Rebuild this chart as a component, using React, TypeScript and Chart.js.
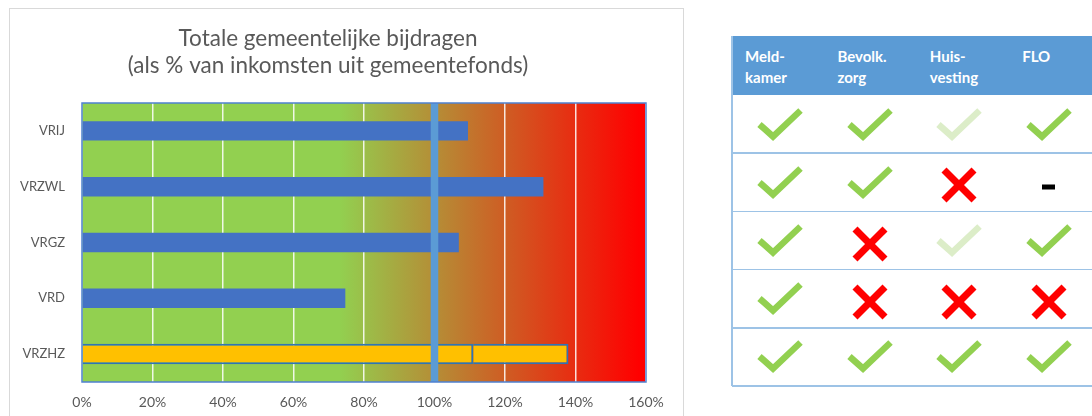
import React, { useEffect, useRef } from 'react';
import { Chart, registerables } from 'chart.js';

Chart.register(...registerables);

// ---------- data ----------
const TITLE_LINES = ['Totale gemeentelijke bijdragen', '(als % van inkomsten uit gemeentefonds)'];
const CATEGORIES = ['VRIJ', 'VRZWL', 'VRGZ', 'VRD', 'VRZHZ'];
const CONTRIBUTION = [109.5, 130.9, 106.9, 74.7, 111];
const CONTRIBUTION_EXTRA = [null, null, null, null, 27];
const HIGHLIGHT = 'VRZHZ';
const X_TICKS = [0, 20, 40, 60, 80, 100, 120, 140, 160];
const THRESHOLD = 100;
const GRADIENT_FROM = 73;
const GRADIENT_TO = 158;

const TABLE_HEADERS = [['Meld-', 'kamer'], ['Bevolk.', 'zorg'], ['Huis-', 'vesting'], ['FLO']];
const TABLE_STATUS = [
  ['check', 'check', 'faded', 'check'],
  ['check', 'check', 'cross', 'dash'],
  ['check', 'cross', 'faded', 'check'],
  ['check', 'cross', 'cross', 'cross'],
  ['check', 'check', 'check', 'check'],
];

// ---------- styles ----------
const FONT = 'Lato, "Open Sans", sans-serif';
const TEXT = '#595959';
const BLUE = '#4472c4';
const YELLOW = '#ffc000';
const BAR_EDGE = '#2e75b6';
const GREEN_BG = '#92d050';
const RED_BG = '#ff0000';
const REF_LINE = '#5b9bd5';

const bgPlugin = {
  id: 'zoneBackground',
  beforeDraw(chart: any) {
    const { ctx, chartArea: a, scales } = chart;
    const x = scales.x;
    const g = ctx.createLinearGradient(x.getPixelForValue(GRADIENT_FROM), 0, x.getPixelForValue(GRADIENT_TO), 0);
    g.addColorStop(0, GREEN_BG);
    g.addColorStop(1, RED_BG);
    ctx.save();
    ctx.fillStyle = g;
    ctx.fillRect(a.left, a.top, a.right - a.left, a.bottom - a.top);
    ctx.restore();
  },
};

const refLinePlugin = {
  id: 'refLine',
  afterDatasetsDraw(chart: any) {
    const { ctx, chartArea: a, scales } = chart;
    const px = scales.x.getPixelForValue(THRESHOLD);
    ctx.save();
    ctx.fillStyle = REF_LINE;
    ctx.fillRect(px - 3.75, a.top, 7.5, a.bottom - a.top);
    ctx.restore();
  },
  afterDraw(chart: any) {
    const { ctx, chartArea: a } = chart;
    ctx.save();
    ctx.strokeStyle = '#4f81d0';
    ctx.lineWidth = 1.5;
    ctx.strokeRect(a.left, a.top, a.right - a.left, a.bottom - a.top);
    ctx.restore();
  },
};

function BarChart() {
  const ref = useRef<HTMLCanvasElement | null>(null);
  useEffect(() => {
    if (!ref.current) return;
    const blueData = CONTRIBUTION.map((v, i) => (CATEGORIES[i] === HIGHLIGHT ? null : v));
    const hiData = CONTRIBUTION.map((v, i) => (CATEGORIES[i] === HIGHLIGHT ? v : null));
    const chart = new Chart(ref.current, {
      type: 'bar',
      data: {
        labels: CATEGORIES,
        datasets: [
          {
            data: blueData,
            backgroundColor: BLUE,
            borderWidth: 0,
            barPercentage: 0.348,
            categoryPercentage: 1,
          },
          {
            data: hiData,
            backgroundColor: YELLOW,
            borderColor: BAR_EDGE,
            borderWidth: 2,
            borderSkipped: 'start',
            barPercentage: 0.368,
            categoryPercentage: 1,
          },
          {
            data: CONTRIBUTION_EXTRA,
            backgroundColor: YELLOW,
            borderColor: BAR_EDGE,
            borderWidth: 2,
            borderSkipped: 'start',
            barPercentage: 0.368,
            categoryPercentage: 1,
          },
        ],
      },
      options: {
        indexAxis: 'y',
        responsive: false,
        animation: false,
        layout: { padding: { top: 0, left: 0, right: 37, bottom: 0 } },
        plugins: {
          legend: { display: false },
          tooltip: { enabled: false },
          title: {
            display: true,
            text: TITLE_LINES,
            color: TEXT,
            font: { family: FONT, size: 22.5, weight: 'normal', lineHeight: 1.2 },
            padding: { top: 16.5, bottom: 23.5 },
          },
        },
        scales: {
          x: {
            stacked: true,
            min: 0,
            max: 160,
            afterBuildTicks: (s: any) => {
              s.ticks = X_TICKS.map((v) => ({ value: v }));
            },
            afterFit: (s: any) => {
              s.height = 34;
            },
            grid: { color: 'rgba(255,255,255,0.85)', lineWidth: 1.5, drawTicks: false },
            border: { display: false },
            ticks: {
              color: TEXT,
              font: { family: FONT, size: 14 },
              padding: 12,
              callback: (v: any) => v + '%',
            },
          },
          y: {
            stacked: true,
            afterFit: (s: any) => {
              s.width = 72;
            },
            grid: { display: false, drawTicks: false },
            border: { display: false },
            ticks: { color: TEXT, font: { family: FONT, size: 13 }, padding: 17 },
          },
        },
      },
      plugins: [bgPlugin, refLinePlugin],
    } as any);
    return () => chart.destroy();
  }, []);
  return <canvas ref={ref} width={673} height={407} style={{ position: 'absolute', left: 0, top: 0, width: 673, height: 407 }} />;
}

function Icon({ kind }: { kind: string }) {
  if (kind === 'check' || kind === 'faded') {
    return (
      <svg width={48} height={34} viewBox="0 0 48 34" style={{ display: 'block' }}>
        <polyline
          points="3.5,17.5 17,29.5 44.5,3.5"
          fill="none"
          stroke={kind === 'check' ? '#92d050' : '#dcedc8'}
          strokeWidth={6.5}
          strokeLinecap="butt"
          strokeLinejoin="miter"
        />
      </svg>
    );
  }
  if (kind === 'cross') {
    return (
      <svg width={36} height={36} viewBox="0 0 36 36" style={{ display: 'block' }}>
        <line x1={3} y1={3} x2={33} y2={33} stroke="#ff0000" strokeWidth={7} />
        <line x1={33} y1={3} x2={3} y2={33} stroke="#ff0000" strokeWidth={7} />
      </svg>
    );
  }
  return (
    <svg width={14} height={6} viewBox="0 0 14 6" style={{ display: 'block' }}>
      <rect x={0} y={0.5} width={13} height={5} fill="#000" />
    </svg>
  );
}

function StatusTable() {
  const left = 732;
  const top = 36;
  const headerH = 59;
  const rowH = 58.2;
  const colW = 92.4;
  const iconStep = 89.5;
  const iconX0 = 48;
  const lineColor = '#9dc3e6';
  const els: any[] = [];
  els.push(
    <div key="hdr" style={{ position: 'absolute', left, top, width: 400, height: headerH, background: '#5b9bd5' }} />
  );
  TABLE_HEADERS.forEach((lines, i) => {
    els.push(
      <div
        key={'h' + i}
        style={{
          position: 'absolute',
          left: left + 13 + colW * i,
          top: top + 9.5,
          color: '#fff',
          fontFamily: FONT,
          fontWeight: 700,
          fontSize: 15,
          lineHeight: '21px',
          whiteSpace: 'nowrap',
        }}
      >
        {lines.map((l, j) => (
          <div key={j}>{l}</div>
        ))}
      </div>
    );
  });
  els.push(
    <div key="lb" style={{ position: 'absolute', left: left - 0.75, top, width: 1.5, height: headerH + rowH * TABLE_STATUS.length, background: lineColor }} />
  );
  TABLE_STATUS.forEach((row, r) => {
    const rowTop = top + headerH + rowH * r;
    els.push(
      <div key={'rl' + r} style={{ position: 'absolute', left, top: rowTop + rowH - 0.75, width: 400, height: 1.5, background: lineColor }} />
    );
    row.forEach((kind, c) => {
      const cx = left + iconX0 + iconStep * c;
      const cy = rowTop + rowH / 2 + (kind === 'cross' ? 3 : kind === 'dash' ? 4.5 : -0.5);
      const w = kind === 'cross' ? 36 : kind === 'dash' ? 14 : 48;
      const h = kind === 'cross' ? 36 : kind === 'dash' ? 6 : 34;
      els.push(
        <div key={'i' + r + '-' + c} style={{ position: 'absolute', left: cx - w / 2, top: cy - h / 2, width: w, height: h }}>
          <Icon kind={kind} />
        </div>
      );
    });
  });
  return <>{els}</>;
}

export default function App() {
  return (
    <div style={{ position: 'fixed', left: 0, top: 0, width: 1092, height: 416, overflow: 'hidden', background: '#fff' }}>
      <div
        style={{
          position: 'absolute',
          left: 9,
          top: 8,
          width: 675,
          height: 440,
          boxSizing: 'border-box',
          border: '1px solid #d9d9d9',
        }}
      >
        <BarChart />
      </div>
      <StatusTable />
    </div>
  );
}
